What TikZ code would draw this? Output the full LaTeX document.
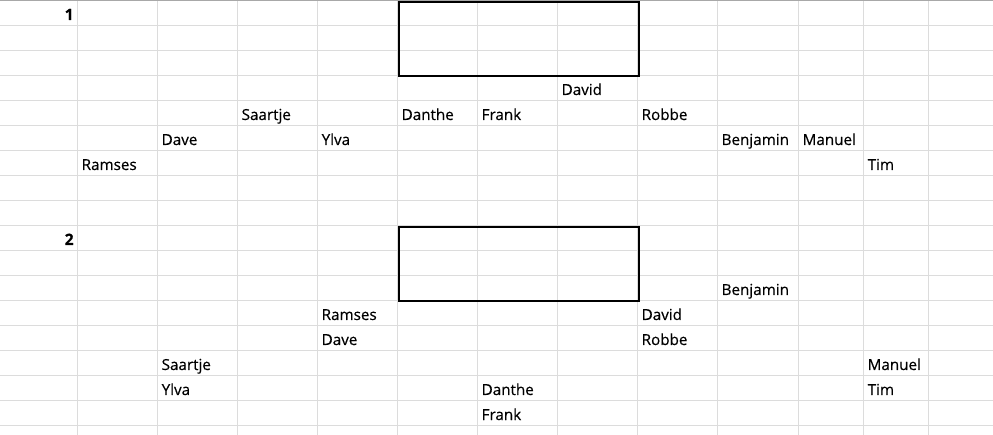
\documentclass[tikz,border=0pt]{standalone}
\usepackage{fontspec}
\setmainfont{Open Sans}[FakeBold=0.35]
\newfontfamily\cellfont{Open Sans}[FakeBold=0.35]
\newfontfamily\numfont{Open Sans Bold}[FakeBold=0.3]
\definecolor{gridc}{HTML}{DCDCDC}
\definecolor{topc}{HTML}{A8A8A8}
\begin{document}
\begin{tikzpicture}[x=1pt,y=-1pt,
  cell/.style={anchor=base west,inner sep=0pt,font=\cellfont\fontsize{15.2}{18}\selectfont\addfontfeature{FakeBold=0.35}},
  num/.style={anchor=base east,inner sep=0pt,font=\fontsize{15.6}{18}\selectfont\bfseries},
  gridline/.style={draw=gridc,line width=1pt},
  frame/.style={draw=black,line width=2pt}]
\useasboundingbox (0,0) rectangle (993,435);
\fill[white] (0,0) rectangle (993,435);
% grid
\foreach \x in {77.5,157.5,237.5,317.5,397.5,477.5,557.5,637.5,717.5,798.5,863.5,928.5}
  \draw[gridline] (\x,0) -- (\x,435);
\foreach \k in {1,...,17}
  \draw[gridline] (0,25*\k+0.4) -- (993,25*\k+0.4);
\draw[draw=topc,line width=1pt] (0,0.5) -- (993,0.5);
% boxes
\node[frame,inner sep=0pt,minimum width=240pt,minimum height=74pt,anchor=north west] (box1) at (397.5,1.3) {};
\node[frame,inner sep=0pt,minimum width=240pt,minimum height=74.6pt,anchor=north west] (box2) at (397.5,225.7) {};
% section 1
\node[num] (n1) at (73.8,20) {1};
\node[cell] (a1) at (561.5,95) {David};
\node[cell] (a2) at (241.5,120) {Saartje};
\node[cell] (a3) at (401.5,120) {Danthe};
\node[cell] (a4) at (481.5,120) {Frank};
\node[cell] (a5) at (641.5,120) {Robbe};
\node[cell] (a6) at (161.5,145) {Dave};
\node[cell] (a7) at (321.5,145) {Ylva};
\node[cell] (a8) at (721.5,145) {Benjamin};
\node[cell] (a9) at (802.5,145) {Manuel};
\node[cell] (a10) at (81.5,170) {Ramses};
\node[cell] (a11) at (867.5,170) {Tim};
% section 2
\node[num] (n2) at (73.8,245) {2};
\node[cell] (b1) at (721.5,295) {Benjamin};
\node[cell] (b2) at (321.5,320) {Ramses};
\node[cell] (b3) at (641.5,320) {David};
\node[cell] (b4) at (321.5,345) {Dave};
\node[cell] (b5) at (641.5,345) {Robbe};
\node[cell] (b6) at (161.5,370) {Saartje};
\node[cell] (b7) at (867.5,370) {Manuel};
\node[cell] (b8) at (161.5,395) {Ylva};
\node[cell] (b9) at (481.5,395) {Danthe};
\node[cell] (b10) at (867.5,395) {Tim};
\node[cell] (b11) at (481.5,420) {Frank};
\end{tikzpicture}
\end{document}
